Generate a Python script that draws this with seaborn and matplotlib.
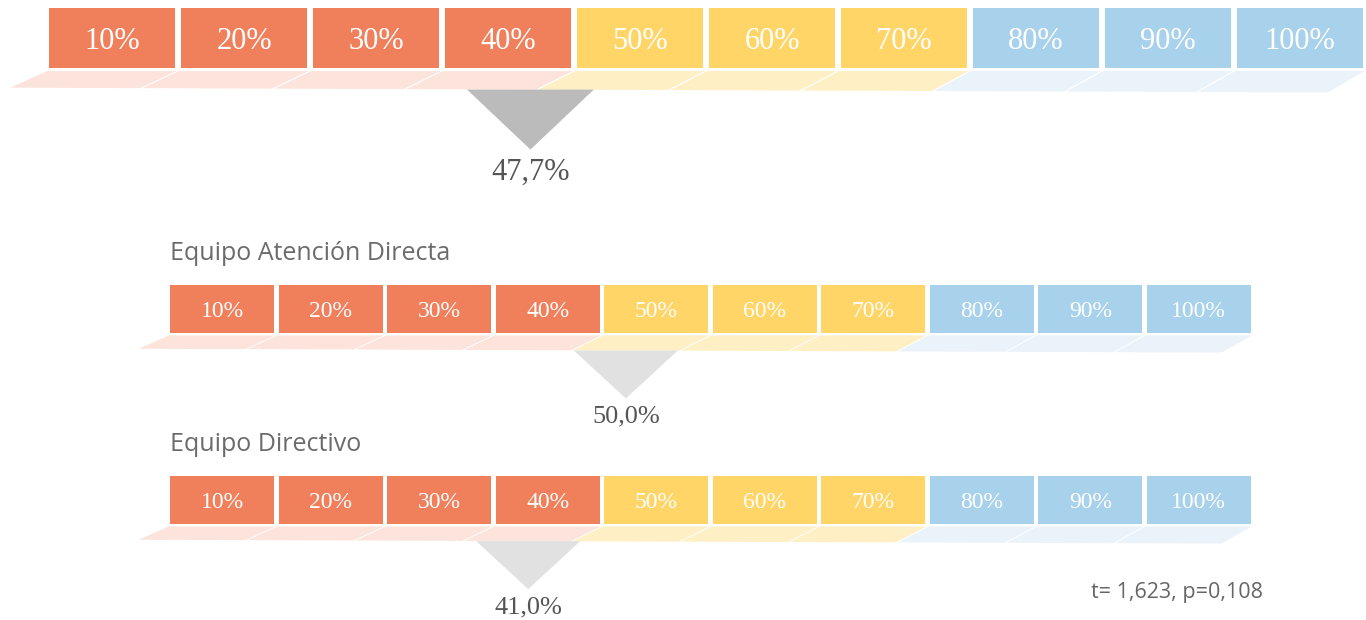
import matplotlib

matplotlib.use("Agg")
import matplotlib.pyplot as plt
import pandas as pd
import seaborn as sns

# scale cells
box_labels = ["10%", "20%", "30%", "40%", "50%", "60%", "70%", "80%", "90%", "100%"]
box_colors = ["#F07F5C"] * 4 + ["#FFD567"] * 3 + ["#A8D1EB"] * 3
shadow_colors = ["#FCE3DB"] * 4 + ["#FFEFC4"] * 3 + ["#EAF3FA"] * 3

# one row per group (first row is the total)
row_titles = [None, "Equipo Atención Directa", "Equipo Directivo"]
value_labels = ["47,7%", "50,0%", "41,0%"]
# where the marker sits on the 0-100 scale (the top one is drawn left of its value)
marker_pos = [44.5, 50.0, 41.0]
marker_colors = ["#BBBBBB", "#E1E1E1", "#E1E1E1"]
stat_text = "t= 1,623, p=0,108"

# layout in pixels: left, right, top, bottom of the row of cells
W, H = 1366, 620
row_px = [(46, 1366, 8, 68), (168, 1253, 285, 333), (168, 1253, 476, 524)]
cell_fs = [22, 17, 17]
value_fs = [22, 19, 19]
slant = 0.28  # how far the floor shadow leans left, in cell units

sns.set_style("white")
fig = plt.figure(figsize=(W / 100, H / 100), dpi=100)
fig.patch.set_facecolor("white")

df = pd.DataFrame({"label": box_labels, "h": [1] * len(box_labels)})


def floor_y(x):
    # bottom of the shadow strip, slightly lower to the right
    return -0.33 - 0.008 * (x + 0.5)


for r, (left, right, top, bottom) in enumerate(row_px):
    ax = fig.add_axes([left / W, 1 - bottom / H, (right - left) / W, (bottom - top) / H])
    sns.barplot(
        data=df, x="label", y="h", hue="label", palette=box_colors,
        width=0.955, saturation=1, legend=False, ax=ax, linewidth=0,
    )
    ax.set_xlim(-0.5, len(box_labels) - 0.5)
    ax.set_ylim(0, 1)
    ax.axis("off")

    for i, lab in enumerate(box_labels):
        ax.text(i, 0.44, lab, ha="center", va="center", color="white",
                fontsize=cell_fs[r], family="Liberation Serif")
        x0, x1 = i - 0.49, i + 0.49
        ax.fill(
            [x0, x1, x1 - slant, x0 - slant],
            [-0.05, -0.05, floor_y(x1 - slant), floor_y(x0 - slant)],
            color=shadow_colors[i], lw=0, clip_on=False,
        )

    vx = marker_pos[r] / 10 - 1 - slant
    ty = floor_y(vx)
    ax.fill([vx - 0.48, vx + 0.48, vx], [ty, ty, ty - 1.0],
            color=marker_colors[r], lw=0, clip_on=False)
    ax.text(vx, ty - 1.38, value_labels[r], ha="center", va="center",
            color="#555555", fontsize=value_fs[r], family="Liberation Serif")

    if row_titles[r]:
        ax.text(-0.48, 1.66, row_titles[r], ha="left", va="center",
                color="#6b6b6b", fontsize=18, family="Open Sans")

ax.text(9.59, -1.42, stat_text, ha="right", va="center", color="#666666",
        fontsize=15.5, family="Open Sans")

fig.savefig("out.png", dpi=100, facecolor="white")
plt.close(fig)
